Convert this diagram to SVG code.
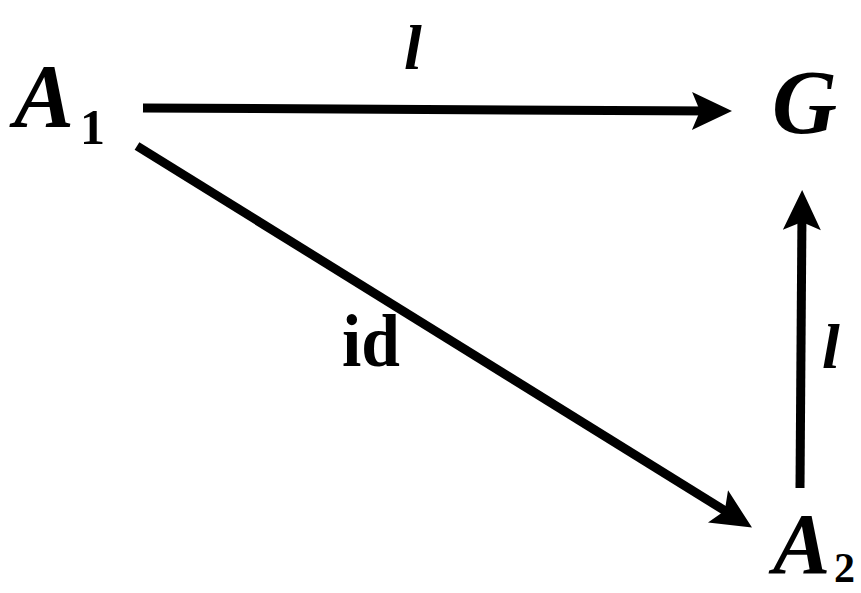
<svg xmlns="http://www.w3.org/2000/svg" width="861" height="593" viewBox="0 0 861 593">
<style>
.lbl{font-family:"Liberation Serif","Times New Roman",serif;font-weight:bold;fill:#000}
.it{font-style:italic}
.edge{stroke:#000;stroke-width:9;fill:none}
</style>
<defs>
<marker id="ah" markerUnits="userSpaceOnUse" orient="auto" refX="0" refY="0" markerWidth="80" markerHeight="60" overflow="visible">
<path d="M20,0 L-20,-19 L-12,0 L-20,19 Z" fill="#000"/>
</marker>
</defs>
<rect width="861" height="593" fill="#fff"/>
<g id="connectors">
<line class="edge" x1="143" y1="108" x2="712" y2="111" marker-end="url(#ah)"/>
<line class="edge" x1="137" y1="146" x2="735" y2="517" marker-end="url(#ah)"/>
<line class="edge" x1="800" y1="488" x2="802" y2="210" marker-end="url(#ah)"/>
<text class="lbl it" x="404" y="69" font-size="64">l</text>
<text class="lbl" x="342" y="366" font-size="74" textLength="58" lengthAdjust="spacingAndGlyphs">id</text>
<text class="lbl it" x="822" y="368" font-size="64">l</text>
</g>
<g id="A1">
<text class="lbl it" x="14" y="127" font-size="90">A</text>
<text class="lbl" x="80" y="144" font-size="50">1</text>
</g>
<g id="G">
<text class="lbl it" x="772" y="133" font-size="90">G</text>
</g>
<g id="A2">
<text class="lbl it" x="773" y="573" font-size="86">A</text>
<text class="lbl" x="834" y="582" font-size="42">2</text>
</g>
</svg>
